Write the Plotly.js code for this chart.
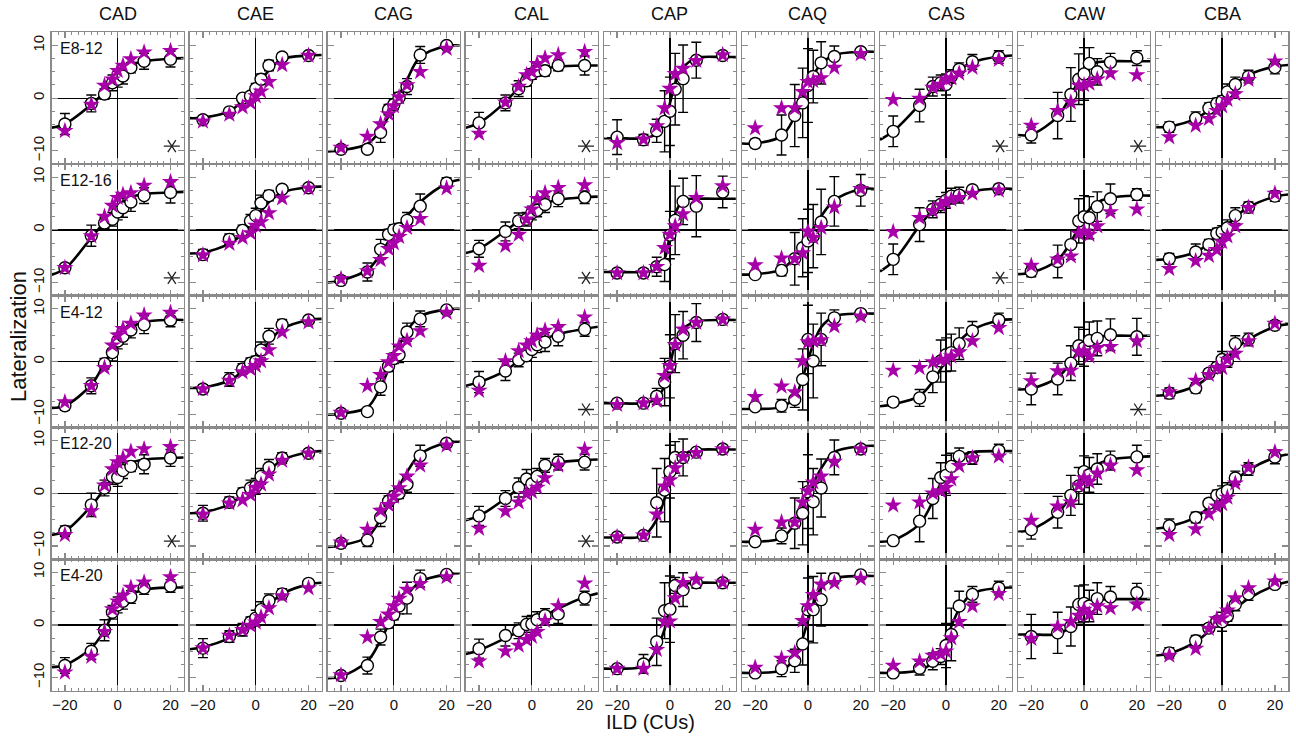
<!DOCTYPE html>
<html><head><meta charset="utf-8">
<script src="https://cdn.plot.ly/plotly-3.0.1.min.js"></script>
<style>html,body{margin:0;padding:0;background:#fff}#chart{width:1296px;height:739px}</style>
</head><body><div id="chart"></div>
<script>
const subjects = ['CAD','CAE','CAG','CAL','CAP','CAQ','CAS','CAW','CBA'];
const conditions = ['E8-12','E12-16','E4-12','E12-20','E4-20'];
const ild = [-20,-10,-5,-2,0,2,5,10,20];
const curveIld = [-25,-20,-10,-5,-2,0,2,5,10,20,25];
const asterisks = [[1,0,0,1,0,0,1,1,0],[1,0,0,1,0,0,1,0,0],[0,0,0,1,0,0,0,1,0],[1,0,0,1,0,0,0,0,0],[0,0,0,0,0,0,0,0,0]];
const asteriskPos = [20.5,-9.1];

// Row 1: E8-12
const circles_r1 = [
 [-4.9,-1.0,0.8,2.9,3.6,4.2,5.8,7.0,7.4],[-4.1,-2.6,0.0,0.4,1.8,3.6,6.2,7.8,8.1],
 [-9.7,-9.7,-6.5,-2.2,-1.2,0.1,2.2,8.2,10.0],[-4.7,-0.9,1.8,3.3,4.6,5.2,5.2,6.2,6.2],
 [-7.4,-7.9,-6.2,-4.4,-2.5,1.7,3.7,7.2,8.1],[-8.6,-7.0,-3.3,-0.9,2.4,4.1,6.7,7.9,8.8],
 [-6.3,-1.4,2.2,2.9,2.6,4.1,5.5,6.9,7.8],[-7.0,-3.3,0.7,3.6,4.6,6.6,5.0,6.8,7.6],
 [-5.5,-3.8,-1.9,-1.0,-0.6,1.2,2.6,4.1,5.8]];
const errors_r1 = [
 [2.0,1.6,1.0,1.5,1.5,1.5,1.0,1.5,1.5],[0.5,0.6,0.5,0.7,1.0,1.0,1.0,0.5,0.5],
 [0.5,0.5,1.9,1.0,1.0,1.0,1.5,1.6,0.5],[2.0,1.5,1.5,1.0,1.0,1.0,1.0,1.0,1.8],
 [3.3,1.0,2.2,5.8,6.5,6.8,6.4,3.4,0.5],[0.8,3.8,5.9,6.6,7.0,5.0,4.0,2.0,0.5],
 [2.9,3.1,1.8,1.5,2.0,1.3,1.2,1.4,1.2],[1.5,4.4,5.1,4.8,5.0,3.0,2.5,1.7,1.4],
 [1.0,1.2,1.0,1.0,1.0,1.5,1.4,1.2,1.2]];
const stars_r1 = [
 [-6.2,-1.2,2.4,3.6,5.2,6.2,7.4,8.7,9.0],[-4.4,-3.1,-1.7,-0.9,0.4,1.3,3.1,6.3,8.1],
 [-9.4,-7.3,-4.9,-3.0,-1.5,0.2,2.5,5.0,9.4],[-6.7,-0.8,2.2,4.4,5.0,6.5,7.6,8.2,8.8],
 [-8.5,-7.8,-5.3,-1.9,1.8,4.6,5.6,7.1,8.2],[-5.7,-1.9,-1.9,1.2,3.1,3.3,3.8,5.8,8.4],
 [-0.3,-0.1,2.0,2.6,3.6,3.8,4.7,5.8,7.3],[-5.2,-2.4,-0.8,2.4,2.5,2.8,3.6,4.7,4.4],
 [-7.4,-5.2,-3.9,-2.4,-1.5,-0.3,0.8,3.5,7.0]];
const curve_r1 = [
 [-5.6,-4.9,-1.2,1.2,3.2,4.4,5.3,6.3,7.0,7.5,7.6],[-3.8,-3.7,-2.5,-0.5,0.8,1.9,3.2,5.3,7.4,8.1,8.2],
 [-10.1,-9.9,-8.7,-6.0,-3.4,-1.5,0.5,3.5,7.8,9.9,10.0],[-5.6,-4.7,-0.7,2.0,3.6,4.5,5.0,5.6,6.0,6.2,6.2],
 [-7.6,-7.6,-7.6,-6.8,-4.5,-1.0,2.8,5.8,7.6,7.8,7.8],[-8.6,-8.6,-7.2,-3.5,-0.2,2.3,4.3,6.5,8.2,8.8,8.8],
 [-7.9,-6.3,-1.2,1.6,3.0,3.7,4.3,5.4,6.8,7.9,8.1],[-7.0,-6.9,-3.5,0.5,3.4,5.1,6.1,6.8,7.0,7.0,7.0],
 [-5.5,-5.4,-3.9,-2.2,-0.8,0.2,1.2,2.7,4.4,6.0,6.3]];

// Row 2: E12-16
const circles_r2 = [
 [-7.2,-1.1,1.3,2.0,3.4,4.2,5.3,6.5,7.1],[-4.7,-1.8,-0.1,1.7,2.7,5.1,6.5,7.7,8.0],
 [-9.6,-8.0,-3.7,-0.9,0.0,0.2,1.8,4.5,8.9],[-3.6,-0.3,1.7,2.0,3.2,3.7,4.8,5.9,6.2],
 [-8.2,-8.2,-7.0,-6.6,-1.0,1.8,5.4,4.5,7.2],[-8.5,-7.7,-5.5,-3.4,-2.1,-1.2,1.5,5.4,7.5],
 [-5.6,1.0,3.9,4.8,5.6,6.4,6.6,7.6,7.8],[-7.9,-6.0,-2.8,1.7,2.5,2.3,4.4,5.9,6.7],
 [-5.5,-4.2,-2.8,-0.7,-0.4,0.4,2.7,4.3,6.4]];
const errors_r2 = [
 [0.6,2.0,1.0,1.3,1.5,1.8,1.8,1.5,2.0],[1.0,1.0,1.0,1.2,1.4,1.5,1.0,0.6,0.5],
 [0.8,1.7,1.9,1.0,1.0,1.0,1.5,2.3,1.0],[1.6,1.8,1.5,1.3,1.3,1.2,1.5,1.5,1.2],
 [0.6,0.8,1.8,3.2,4.5,6.5,4.4,5.8,3.0],[0.5,1.0,5.0,5.5,6.0,6.0,6.2,4.7,3.0],
 [2.9,3.2,1.6,1.5,1.5,1.5,1.5,0.6,0.8],[1.0,3.1,2.8,4.2,4.0,4.0,2.8,2.8,1.1],
 [1.0,1.5,1.0,1.0,1.2,1.5,1.5,1.0,1.0]];
const stars_r2 = [
 [-7.2,-1.2,2.5,4.6,6.1,6.7,7.0,8.4,9.1],[-4.8,-2.6,-1.5,-0.6,0.8,1.5,3.2,6.0,7.9],
 [-9.3,-7.8,-5.7,-3.6,-2.5,-1.3,0.4,2.1,7.9],[-6.8,-3.0,-0.9,2.0,3.9,5.9,7.0,8.0,8.5],
 [-8.2,-8.2,-7.0,-3.4,-0.9,0.7,3.0,6.1,8.3],[-6.7,-5.4,-5.5,-4.4,-0.3,-1.5,0.4,4.3,7.8],
 [-0.4,2.3,3.6,4.7,5.3,5.8,6.1,6.9,7.5],[-6.8,-5.6,-5.0,-0.7,-0.3,-0.9,0.7,3.4,3.9],
 [-7.4,-5.9,-4.9,-3.8,-2.3,-1.2,0.7,4.2,6.9]];
const curve_r2 = [
 [-8.5,-7.4,-1.5,1.5,3.3,4.4,5.3,6.2,6.8,7.1,7.2],[-4.5,-4.3,-2.6,-0.8,0.9,2.2,3.5,5.3,7.1,8.1,8.2],
 [-10.0,-9.6,-7.6,-4.6,-2.2,-0.6,0.8,2.6,5.3,8.8,9.5],[-4.4,-3.6,-0.2,1.7,2.9,3.6,4.3,5.0,5.7,6.2,6.3],
 [-8.0,-8.0,-8.0,-7.5,-5.5,-1.0,3.0,5.6,5.9,5.9,5.9],[-8.5,-8.4,-7.5,-5.2,-3.1,-1.5,0.2,2.6,5.6,7.7,7.8],
 [-7.9,-6.0,0.8,3.8,5.2,5.8,6.3,6.9,7.4,7.8,7.8],[-8.4,-8.1,-5.7,-2.3,0.6,2.5,3.9,5.2,6.1,6.5,6.5],
 [-5.7,-5.5,-4.2,-2.6,-1.2,-0.2,0.8,2.4,4.3,6.3,6.7]];

// Row 3: E4-12
const circles_r3 = [
 [-8.4,-4.6,-0.4,1.7,3.9,4.8,6.0,7.0,7.9],[-5.2,-3.4,-1.4,-0.3,0.0,2.2,4.8,7.0,7.9],
 [-9.8,-9.5,-4.8,-0.9,0.6,1.3,5.6,8.1,9.8],[-3.9,-1.8,0.3,1.1,2.3,3.2,3.7,4.8,6.1],
 [-7.9,-7.9,-6.6,-3.9,-0.9,3.4,5.0,7.4,8.0],[-8.6,-8.4,-7.2,-3.4,4.2,0.1,4.2,8.3,9.1],
 [-7.7,-6.9,-2.9,0.1,1.3,1.7,3.4,5.8,7.9],[-5.2,-3.3,-0.3,3.0,2.6,4.0,4.4,5.1,4.7],
 [-6.0,-5.0,-2.2,-1.1,0.4,0.1,3.4,4.2,6.9]];
const errors_r3 = [
 [0.8,1.5,1.0,1.6,1.5,1.5,1.5,1.7,1.3],[0.8,1.3,1.0,1.0,1.0,1.5,1.5,1.0,0.5],
 [0.5,0.5,1.6,1.0,1.0,1.5,1.7,1.5,0.6],[2.0,1.8,1.3,1.0,1.5,1.5,1.8,1.8,1.3],
 [0.7,0.5,1.5,4.5,6.0,5.5,4.5,3.6,0.5],[0.6,1.2,1.5,5.8,6.5,7.0,5.0,1.5,0.5],
 [0.8,1.6,3.0,4.0,3.2,3.5,3.0,1.8,1.3],[3.0,3.0,3.3,3.5,3.5,3.5,3.3,3.0,3.5],
 [1.0,1.0,0.8,1.0,1.5,1.2,1.5,1.2,0.8]];
const stars_r3 = [
 [-7.7,-4.6,-1.2,3.1,5.0,6.2,7.2,8.8,9.3],[-5.2,-3.6,-2.0,-1.4,-0.8,0.1,2.2,5.6,7.5],
 [-9.7,-4.6,-2.5,-0.1,1.1,2.9,4.0,5.8,9.3],[-5.5,0.1,2.0,3.1,3.9,5.0,5.9,6.6,8.4],
 [-8.2,-7.9,-7.4,-2.7,-0.8,3.2,6.1,7.4,8.0],[-6.7,-4.7,-5.8,0.1,3.7,3.9,4.1,6.7,8.6],
 [-1.7,-1.2,-0.1,0.3,0.4,1.0,1.8,3.9,6.4],[-3.7,-1.8,-1.7,1.8,2.0,1.0,2.6,2.8,3.9],
 [-5.8,-3.6,-2.5,-1.2,-1.2,0.4,1.5,3.9,7.2]];
const curve_r3 = [
 [-8.8,-8.4,-4.4,-0.3,2.3,3.9,5.2,6.5,7.5,7.9,7.9],[-5.0,-4.9,-3.6,-1.9,-0.5,0.6,1.8,3.7,6.2,7.9,8.1],
 [-10.1,-9.9,-8.7,-4.8,-1.5,0.9,3.0,5.8,8.6,9.9,10.0],[-4.6,-3.9,-1.7,0.2,1.6,2.5,3.3,4.3,5.2,6.2,6.6],
 [-7.9,-7.9,-7.9,-7.0,-4.5,-0.8,3.3,6.2,7.6,7.9,7.9],[-9.0,-9.0,-8.6,-6.8,-3.0,0.2,3.3,6.5,8.6,9.1,9.1],
 [-8.5,-8.1,-6.5,-3.8,-1.4,0.2,1.7,3.8,6.0,7.8,8.0],[-5.3,-5.1,-3.0,-0.2,2.3,3.5,4.2,4.7,4.9,4.9,4.9],
 [-6.5,-6.2,-4.6,-2.8,-1.3,-0.3,0.8,2.3,4.2,6.6,7.1]];

// Row 4: E12-20
const circles_r4 = [
 [-7.2,-2.2,1.0,3.2,3.0,4.3,5.1,5.5,6.7],[-3.8,-1.7,0.0,1.0,1.3,3.2,4.9,6.7,7.6],
 [-9.5,-8.9,-4.6,-1.5,-0.6,0.0,1.7,7.1,9.5],[-4.3,-1.0,1.1,2.7,1.8,3.2,5.3,5.9,5.9],
 [-8.3,-8.0,-1.8,0.6,4.1,6.8,6.8,7.8,8.4],[-9.2,-8.1,-5.7,-3.8,0.3,-1.6,1.0,6.8,8.4],
 [-9.0,-5.3,-1.0,3.0,3.4,5.1,7.0,6.7,8.1],[-6.9,-3.6,-0.4,1.4,4.1,3.5,4.6,6.2,6.9],
 [-6.2,-4.6,-1.9,-0.4,-0.1,0.5,2.9,4.6,6.9]];
const errors_r4 = [
 [1.0,2.2,1.5,1.5,1.7,1.5,1.0,1.8,1.6],[1.5,1.0,1.0,1.5,1.5,1.5,1.5,1.0,0.5],
 [0.5,1.2,1.7,1.0,1.0,1.0,1.5,2.0,0.5],[1.8,1.5,1.8,1.8,1.8,1.5,1.3,1.5,1.5],
 [0.5,0.5,6.5,6.0,5.0,3.0,3.5,0.5,0.4],[0.6,1.5,4.8,6.0,7.0,6.3,5.5,3.3,0.5],
 [0.5,3.9,3.8,2.8,3.8,2.5,1.6,1.2,1.2],[1.8,3.0,3.8,3.5,3.0,3.3,2.9,1.8,2.2],
 [1.3,1.0,0.8,1.0,1.5,1.5,1.3,1.2,1.3]];
const stars_r4 = [
 [-7.9,-3.4,1.5,4.6,5.9,6.7,7.9,8.4,8.8],[-4.0,-1.9,-1.3,-0.3,1.1,1.7,3.6,6.2,7.6],
 [-9.3,-6.9,-3.3,-2.2,-0.6,1.0,3.2,5.3,9.1],[-6.7,-3.4,-1.7,-0.1,0.3,1.1,2.9,5.3,8.3],
 [-8.3,-8.0,-4.0,1.3,2.5,4.8,6.9,7.7,8.4],[-6.9,-5.5,-5.5,-1.7,0.4,2.1,3.2,6.0,8.4],
 [-2.3,-1.7,0.0,0.4,1.1,2.7,5.2,6.7,7.0],[-5.2,-2.5,-1.7,1.5,2.9,2.2,3.8,5.3,4.4],
 [-7.9,-6.8,-3.9,-2.5,-2.0,-0.8,1.9,4.9,7.8]];
const curve_r4 = [
 [-7.9,-7.2,-2.4,0.9,3.0,4.2,5.0,5.8,6.4,6.7,6.8],[-3.8,-3.6,-2.1,-0.4,0.8,1.7,2.7,4.3,6.3,7.8,8.0],
 [-10.2,-9.9,-8.3,-4.9,-2.3,-0.5,1.3,4.0,7.4,9.6,9.8],[-5.1,-4.3,-1.0,1.0,2.4,3.2,4.0,4.9,5.8,6.3,6.4],
 [-8.4,-8.4,-8.1,-5.0,-1.0,2.5,5.3,7.3,8.2,8.3,8.3],[-9.2,-9.2,-8.5,-5.8,-2.8,-0.5,1.8,4.7,7.8,8.9,9.0],
 [-9.2,-8.9,-5.8,-1.5,2.0,4.2,5.6,7.0,7.8,8.0,8.0],[-7.3,-6.9,-3.8,-0.5,2.0,3.5,4.5,5.5,6.4,6.9,7.0],
 [-6.7,-6.3,-4.6,-2.6,-1.1,-0.1,0.9,2.4,4.4,6.8,7.4]];

// Row 5: E4-20
const circles_r5 = [
 [-7.7,-5.0,-1.0,2.4,3.8,4.5,5.3,7.0,7.4],[-4.4,-2.2,-0.9,0.5,1.3,2.9,4.6,5.9,7.9],
 [-9.6,-7.7,-2.3,0.4,2.0,3.6,5.1,8.8,9.6],[-4.5,-2.0,-1.1,0.1,0.2,1.0,1.8,2.1,5.1],
 [-8.3,-7.4,-3.2,2.7,3.0,7.5,6.7,8.0,8.0],[-9.1,-8.3,-6.8,-3.6,2.9,2.9,4.8,8.8,9.5],
 [-9.1,-8.2,-6.9,-6.0,-3.9,-1.8,3.6,5.8,7.0],[-2.2,-1.5,-0.3,3.9,4.1,3.6,5.0,5.3,6.1],
 [-5.3,-3.0,-0.6,0.7,0.6,1.7,3.9,5.9,7.7]];
const errors_r5 = [
 [1.5,1.5,2.0,1.3,1.5,1.5,1.2,1.2,1.2],[1.8,1.1,1.2,1.0,1.5,1.5,1.3,1.0,0.5],
 [0.5,1.6,1.5,1.0,1.0,1.5,3.0,1.6,0.5],[1.8,2.0,1.5,1.5,1.6,1.5,1.3,1.8,1.3],
 [0.5,1.8,4.5,5.3,6.3,1.5,3.2,1.0,0.8],[0.6,1.5,2.2,4.0,6.0,6.3,5.0,1.0,0.5],
 [0.5,1.3,1.6,1.5,4.2,5.0,2.8,1.5,1.3],[4.2,3.9,3.7,3.5,3.5,3.0,3.0,2.0,1.8],
 [1.0,1.0,0.8,0.8,1.8,1.0,1.2,1.2,0.7]];
const stars_r5 = [
 [-9.0,-6.0,-1.3,3.0,4.5,5.6,7.1,8.1,9.1],[-4.4,-2.0,-0.9,-0.1,0.5,1.5,3.2,5.5,7.0],
 [-9.5,-2.3,0.6,2.0,3.6,5.0,6.7,7.8,9.1],[-6.9,-5.0,-3.9,-2.8,-2.2,-1.3,0.8,3.6,7.9],
 [-8.3,-8.3,-4.7,0.6,0.7,5.1,8.0,8.6,8.1],[-8.1,-6.4,-5.3,0.8,3.6,5.7,7.7,8.0,8.8],
 [-7.7,-6.9,-5.8,-5.5,-5.0,-2.5,0.6,3.6,5.9],[-2.6,-0.3,0.6,1.8,2.9,2.0,3.6,3.2,3.9],
 [-5.8,-4.5,-0.7,1.1,1.3,2.8,5.1,7.0,8.3]];
const curve_r5 = [
 [-8.0,-7.6,-4.4,-1.0,2.0,3.6,4.7,5.8,6.7,7.1,7.1],[-4.6,-4.2,-2.5,-1.0,0.3,1.3,2.2,3.8,5.9,7.7,8.0],
 [-10.1,-9.8,-6.9,-2.9,0.0,1.8,3.4,5.6,8.2,9.6,9.8],[-5.5,-4.8,-2.5,-1.2,-0.3,0.3,0.9,1.8,3.1,5.3,6.0],
 [-8.3,-8.3,-7.8,-4.5,-0.8,3.0,5.8,7.6,8.0,8.0,8.0],[-9.1,-9.1,-8.6,-6.3,-2.5,0.8,4.0,7.0,8.8,9.3,9.3],
 [-9.1,-9.1,-8.6,-7.1,-4.8,-2.7,-0.3,3.0,6.0,7.0,7.1],[-1.8,-1.8,-1.7,-0.2,2.5,3.8,4.4,4.8,4.9,4.9,4.9],
 [-5.8,-5.4,-3.2,-1.2,0.1,0.9,1.8,3.1,5.0,7.5,8.2]];

const circlesRows = [circles_r1,circles_r2,circles_r3,circles_r4,circles_r5];
const errorsRows = [errors_r1,errors_r2,errors_r3,errors_r4,errors_r5];
const starsRows = [stars_r1,stars_r2,stars_r3,stars_r4,stars_r5];
const curveRows = [curve_r1,curve_r2,curve_r3,curve_r4,curve_r5];

// ---- layout geometry ----
const W = 1296, H = 739;
const colLeft0 = 51.7, colPitch = 138.05, colW = 132;
const rowTop0 = 32.3, rowH = 131.7;
const FONT = '"Liberation Sans", Arial, Helvetica, sans-serif';
const frameColor = '#8a8a8a';
const starColor = '#a800a8';

const traces = [];
const layout = {
  width: W, height: H,
  margin: {l:0, r:0, t:0, b:0},
  paper_bgcolor: '#fff', plot_bgcolor: '#fff',
  showlegend: false, hovermode: false,
  font: {family: FONT, color: '#111'},
  annotations: []
};

for (let r = 0; r < 5; r++) {
  for (let c = 0; c < 9; c++) {
    const k = r*9 + c + 1;
    const xn = 'x' + k, yn = 'y' + k;
    const xk = 'xaxis' + (k === 1 ? '' : k), yk = 'yaxis' + (k === 1 ? '' : k);
    const left = colLeft0 + c*colPitch;
    const top = rowTop0 + r*rowH;
    layout[xk] = {
      domain: [left/W, (left+colW)/W], anchor: yn,
      range: [-25, 25], tickmode: 'linear', tick0: 0, dtick: 20,
      showline: true, linecolor: frameColor, linewidth: 1.4, mirror: 'allticks',
      ticks: 'inside', ticklen: 6, tickwidth: 1.2, tickcolor: frameColor,
      minor: {ticks: 'inside', ticklen: 3, tickwidth: 1, tickcolor: frameColor, tickmode: 'linear', tick0: 0, dtick: 2.5, showgrid: false},
      showgrid: false, zeroline: true, zerolinecolor: '#000', zerolinewidth: 1.3,
      showticklabels: r === 4, tickfont: {size: 15, family: FONT, color: '#111'},
      fixedrange: true
    };
    layout[yk] = {
      domain: [1 - (top+rowH)/H, 1 - top/H], anchor: xn,
      range: [-12.5, 12.5], tickmode: 'linear', tick0: 0, dtick: 10,
      showline: true, linecolor: frameColor, linewidth: 1.4, mirror: 'allticks',
      ticks: 'inside', ticklen: 6, tickwidth: 1.2, tickcolor: frameColor,
      minor: {ticks: 'inside', ticklen: 3, tickwidth: 1, tickcolor: frameColor, tickmode: 'linear', tick0: 0, dtick: 2.5, showgrid: false},
      showgrid: false, zeroline: true, zerolinecolor: '#000', zerolinewidth: 1.3,
      showticklabels: c === 0, tickangle: -90, tickfont: {size: 15, family: FONT, color: '#111'},
      fixedrange: true
    };

    // fitted curve
    traces.push({
      x: curveIld, y: curveRows[r][c], xaxis: xn, yaxis: yn,
      mode: 'lines', line: {color: '#000', width: 2.6, shape: 'spline', smoothing: 1}
    });
    // open circles with error bars
    traces.push({
      x: ild, y: circlesRows[r][c], xaxis: xn, yaxis: yn, mode: 'markers',
      marker: {symbol: 'circle', size: 12, color: '#fff', line: {color: '#000', width: 1.4}},
      error_y: {type: 'data', array: errorsRows[r][c], visible: true, color: '#000', thickness: 1.4, width: 5},
      cliponaxis: false
    });
    // stars
    traces.push({
      x: ild, y: starsRows[r][c], xaxis: xn, yaxis: yn, mode: 'markers',
      marker: {symbol: 'star', size: 13, color: starColor, line: {width: 0}},
      cliponaxis: false
    });
    if (asterisks[r][c]) {
      // six-armed asterisk with a vertical arm: two overlapping three-armed marks
      traces.push({
        x: [asteriskPos[0], asteriskPos[0]], y: [asteriskPos[1], asteriskPos[1]],
        xaxis: xn, yaxis: yn, mode: 'markers',
        marker: {symbol: ['y-left-open','y-right-open'], size: 10, color: '#222', line: {color: '#222', width: 1.3}}
      });
    }
    if (c === 0) {
      layout.annotations.push({
        xref: xn, yref: yn, x: -22.6, y: 9.4, xanchor: 'left', yanchor: 'middle',
        text: conditions[r], showarrow: false, font: {size: 16, family: FONT, color: '#111'}
      });
    }
    if (r === 0) {
      layout.annotations.push({
        xref: 'paper', yref: 'paper', x: (left + colW/2)/W, y: 1 - 14/H,
        xanchor: 'center', yanchor: 'middle', text: subjects[c], showarrow: false,
        font: {size: 18, family: FONT, color: '#111'}
      });
    }
  }
}
layout.annotations.push({
  xref: 'paper', yref: 'paper', x: 19/W, y: 1 - 337/H, xanchor: 'center', yanchor: 'middle',
  text: 'Lateralization', textangle: -90, showarrow: false, font: {size: 22, family: FONT, color: '#111'}
});
layout.annotations.push({
  xref: 'paper', yref: 'paper', x: 651/W, y: 1 - 722/H, xanchor: 'center', yanchor: 'middle',
  text: 'ILD (CUs)', showarrow: false, font: {size: 20, family: FONT, color: '#111'}
});

Plotly.newPlot('chart', traces, layout, {staticPlot: true, displayModeBar: false});
</script>
</body></html>
